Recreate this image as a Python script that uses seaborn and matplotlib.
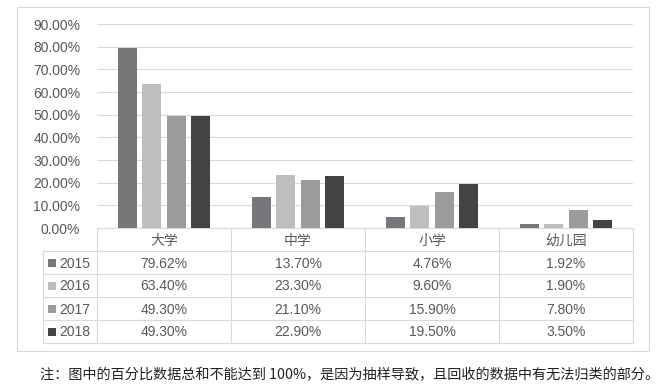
import matplotlib
matplotlib.use('Agg')
import matplotlib.pyplot as plt
from matplotlib.patches import Rectangle
import pandas as pd
import seaborn as sns

# data
categories = ['大学', '中学', '小学', '幼儿园']
years = ['2015', '2016', '2017', '2018']
v2015 = [79.62, 13.70, 4.76, 1.92]
v2016 = [63.40, 23.30, 9.60, 1.90]
v2017 = [49.30, 21.10, 15.90, 7.80]
v2018 = [49.30, 22.90, 19.50, 3.50]
colors = ['#77777b', '#bebebe', '#9b9b9d', '#434345']
note = '注：图中的百分比数据总和不能达到 100%，是因为抽样导致，且回收的数据中有无法归类的部分。'

series = [v2015, v2016, v2017, v2018]
df = pd.DataFrame({
    'cat': categories * len(years),
    'year': [y for y in years for _ in categories],
    'val': [v for s in series for v in s],
})

sns.set_style('white')
plt.rcParams['font.family'] = ['Liberation Sans', 'Noto Sans CJK SC']

W, H = 664, 388
fig = plt.figure(figsize=(W / 100, H / 100), dpi=100)

# layout in pixels
px_left, px_right = 97, 633
px_zero, px_top = 228, 24
lab_left = 43
head_h = 23
row_h = 23
line_c = '#d9d9d9'
txt_c = '#595959'
lw = 0.8

# overlay axes in pixel coords for the frame + data table
ov = fig.add_axes([0, 0, 1, 1])
ov.set_xlim(0, W)
ov.set_ylim(H, 0)
ov.axis('off')

ax = fig.add_axes([px_left / W, 1 - px_zero / H,
                   (px_right - px_left) / W, (px_zero - px_top) / H])
ax.patch.set_alpha(0)
sns.barplot(data=df, x='cat', y='val', hue='year', palette=colors,
            width=0.725, gap=0.22, saturation=1, linewidth=0,
            legend=False, ax=ax)
ax.set_xlim(-0.5, len(categories) - 0.5)
ax.set_ylim(0, 90)
ticks = list(range(0, 91, 10))
ax.set_yticks(ticks)
ax.set_yticklabels([f'{t:.2f}%' for t in ticks], fontsize=10, color=txt_c)
ax.set_xticks([])
ax.set_xlabel('')
ax.set_ylabel('')
ax.tick_params(axis='y', length=0, pad=12)
ax.grid(axis='y', color=line_c, linewidth=lw)
ax.set_axisbelow(True)
for s in ax.spines.values():
    s.set_visible(False)

# outer frame
ov.add_patch(Rectangle((17, 7), 649 - 17, 351 - 7, fill=False,
                       edgecolor=line_c, linewidth=lw))

# data table
col_w = (px_right - px_left) / len(categories)
y_rows = [px_zero + head_h + i * row_h for i in range(len(years) + 1)]
ov.plot([px_left, px_right], [px_zero, px_zero], color=line_c, lw=lw)
for y in y_rows:
    ov.plot([lab_left, px_right], [y, y], color=line_c, lw=lw)
for i in range(len(categories) + 1):
    x = px_left + i * col_w
    ov.plot([x, x], [px_zero, y_rows[-1]], color=line_c, lw=lw)
ov.plot([lab_left, lab_left], [y_rows[0], y_rows[-1]], color=line_c, lw=lw)

for i, c in enumerate(categories):
    ov.text(px_left + (i + 0.5) * col_w, px_zero + head_h / 2 + 1, c,
            ha='center', va='center', fontsize=10, color=txt_c)

for r, (yr, vals) in enumerate(zip(years, series)):
    yc = y_rows[r] + row_h / 2 + 1
    ov.add_patch(Rectangle((48, yc - 4.5), 8, 8, color=colors[r], lw=0))
    ov.text(59, yc, yr, ha='left', va='center', fontsize=10, color=txt_c)
    for i, v in enumerate(vals):
        ov.text(px_left + (i + 0.5) * col_w, yc, f'{v:.2f}%',
                ha='center', va='center', fontsize=10, color=txt_c)

# footnote
ov.text(40, 375, note, ha='left', va='center', fontsize=10.2, color='#222222',
        family=['Noto Sans CJK SC', 'DejaVu Sans'])

fig.savefig('out.png', dpi=100)
